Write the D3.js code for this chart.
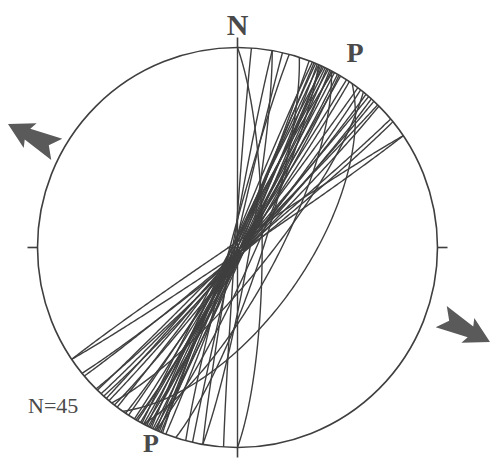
<!DOCTYPE html>
<html>
<head>
<meta charset="utf-8">
<script src="https://cdn.jsdelivr.net/npm/d3@7"></script>
<style>
  body { margin: 0; background: #fff; }
  text { font-family: "Liberation Serif", "DejaVu Serif", serif; fill: #4a4a4a; }
</style>
</head>
<body>
<svg id="chart" width="490" height="459"></svg>
<script>
// planes (right-hand rule strike, dip)
var strikes = [0, 0, 184, 190, 193, 195,
  21, 202, 22.5, 203, 23.5, 204, 24.5, 25, 205.5, 26, 26.5, 207, 27.5, 28, 208.5, 29, 30, 30.5, 31,
  35, 33, 34, 37, 38, 40, 41, 42, 43, 44.5, 45,
  50, 51, 56, 236, 28, 18, 24, 39, 10];
var dips = [90, 80, 89, 88, 89, 87,
  89, 88, 90, 89, 88, 89, 87, 89, 88, 90, 88, 89, 87, 89, 88, 89, 88, 87, 89,
  62, 89, 88, 89, 87, 88, 89, 87, 88, 89, 87,
  88, 87, 88, 88, 74, 80, 83, 78, 85];
var N = strikes.length;

var svg = d3.select("#chart");
var cx = 237.5, cy = 247.5, R = 200;
var x = d3.scaleLinear().domain([-1, 1]).range([cx - R, cx + R]);
var y = d3.scaleLinear().domain([-1, 1]).range([cy + R, cy - R]);
var ink = "#3f3f3f";

// equal-area lower hemisphere projection of a great circle
function greatCircle(s, d) {
  var rad = Math.PI / 180, pts = [];
  var sv = [Math.sin(s * rad), Math.cos(s * rad), 0];
  var dv = [Math.sin((s + 90) * rad) * Math.cos(d * rad), Math.cos((s + 90) * rad) * Math.cos(d * rad), Math.sin(d * rad)];
  for (var a = 0; a <= 180; a += 1) {
    var c = Math.cos(a * rad), sn = Math.sin(a * rad);
    var e = c * sv[0] + sn * dv[0], n = c * sv[1] + sn * dv[1], dn = c * sv[2] + sn * dv[2];
    var plunge = Math.asin(Math.min(1, Math.max(-1, dn)));
    var trend = Math.atan2(e, n);
    var r = Math.SQRT2 * Math.sin((Math.PI / 2 - plunge) / 2);
    pts.push([r * Math.sin(trend), r * Math.cos(trend)]);
  }
  return pts;
}

var line = d3.line().x(function (d) { return x(d[0]); }).y(function (d) { return y(d[1]); });

svg.append("g")
  .selectAll("path")
  .data(strikes.map(function (s, i) { return greatCircle(s, dips[i]); }))
  .join("path")
  .attr("d", line)
  .attr("fill", "none")
  .attr("stroke", ink)
  .attr("stroke-width", 1.4);

// primitive circle
svg.append("circle")
  .attr("cx", x(0)).attr("cy", y(0)).attr("r", x(1) - x(0))
  .attr("fill", "none").attr("stroke", ink).attr("stroke-width", 1.6);

// ticks
var ticks = [[0, 1, 0, 1.05], [0, -1, 0, -1.05], [-1, 0, -1.05, 0], [1, 0, 1.05, 0], [-0.05, 0, 0.04, 0]];
svg.append("g").selectAll("line").data(ticks).join("line")
  .attr("x1", function (d) { return x(d[0]); }).attr("y1", function (d) { return y(d[1]); })
  .attr("x2", function (d) { return x(d[2]); }).attr("y2", function (d) { return y(d[3]); })
  .attr("stroke", ink).attr("stroke-width", 1.6);

// labels
svg.append("text").attr("x", x(0)).attr("y", 35).attr("text-anchor", "middle")
  .attr("font-size", 30).attr("font-weight", "bold").text("N");
svg.append("text").attr("x", 355).attr("y", 62).attr("text-anchor", "middle")
  .attr("font-size", 28).attr("font-weight", "bold").text("P");
svg.append("text").attr("x", 151).attr("y", 452).attr("text-anchor", "middle")
  .attr("font-size", 26).attr("font-weight", "bold").text("P");
svg.append("text").attr("x", 28).attr("y", 413)
  .attr("font-size", 22).text("N=" + N);

// extension arrows
var arrowShape = [[0, 0], [-25, -14], [-22, -6], [-55, -12], [-46, 0], [-55, 12], [-22, 6], [-25, 14]];
var arrows = [{ tx: 8, ty: 124, rot: 207.5 }, { tx: 490, ty: 342, rot: 27.5 }];
svg.append("g").selectAll("path").data(arrows).join("path")
  .attr("d", d3.line()(arrowShape) + "Z")
  .attr("transform", function (d) { return "translate(" + d.tx + "," + d.ty + ") rotate(" + d.rot + ")"; })
  .attr("fill", "#5a5a5a");
</script>
</body>
</html>
